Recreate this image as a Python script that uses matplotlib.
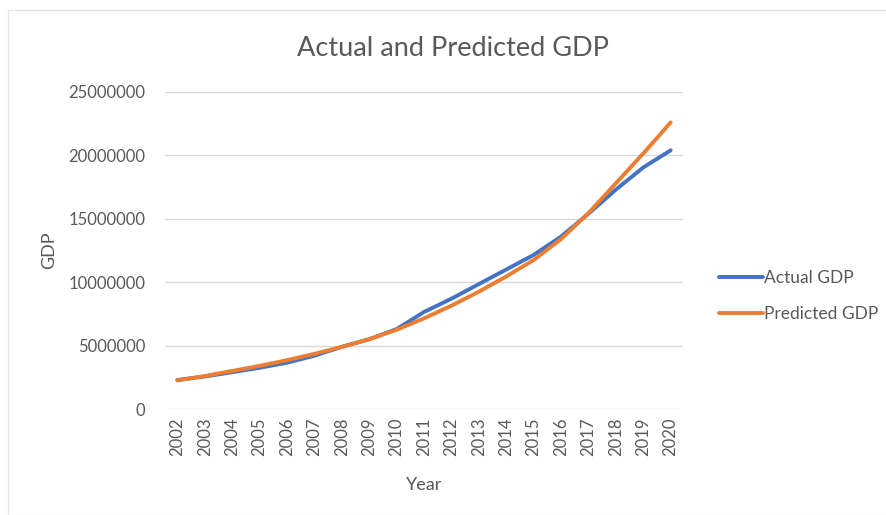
import matplotlib.pyplot as plt
from matplotlib.ticker import FuncFormatter

# datos del grafico
years = list(range(2002, 2021))
actual_gdp = [2290000, 2560000, 2900000, 3250000, 3650000, 4200000, 4900000, 5500000, 6300000,
              7650000, 8700000, 9850000, 11000000, 12150000, 13600000, 15400000, 17300000, 19050000, 20400000]
predicted_gdp = [2250000, 2600000, 3000000, 3400000, 3850000, 4350000, 4900000, 5500000, 6250000,
                 7150000, 8150000, 9250000, 10450000, 11750000, 13400000, 15450000, 17800000, 20150000, 22600000]
yticks = [0, 5000000, 10000000, 15000000, 20000000, 25000000]

plt.rcParams['font.family'] = ['Lato', 'DejaVu Sans']
gris = '#595959'

fig = plt.figure(figsize=(8.86, 5.15), dpi=100)
ax = fig.add_axes([165/886, 1-409/515, (683-165)/886, (409-92)/515])

ax.plot(years, actual_gdp, color='#4472C4', lw=2.8, label='Actual GDP', solid_capstyle='round')
ax.plot(years, predicted_gdp, color='#ED7D31', lw=2.8, label='Predicted GDP', solid_capstyle='round')

ax.set_xlim(2001.55, 2020.45)
ax.set_ylim(0, 25000000)
ax.set_yticks(yticks)
ax.yaxis.set_major_formatter(FuncFormatter(lambda v, p: '%d' % v))
ax.set_xticks(years)
ax.set_xticklabels([str(y) for y in years], rotation=90)
ax.tick_params(axis='both', length=0, labelsize=12, colors=gris)
ax.tick_params(axis='y', pad=14)
ax.tick_params(axis='x', pad=6)
ax.grid(axis='y', color='#d9d9d9', lw=1)
ax.set_axisbelow(True)
for s in ax.spines.values():
    s.set_visible(False)

ax.set_xlabel('Year', fontsize=13, color=gris, labelpad=15)
ax.set_ylabel('GDP', fontsize=13, color=gris, labelpad=8)
fig.text(453/886, 1-49/515, 'Actual and Predicted GDP', fontsize=19.5, color=gris, ha='center', va='center')

ax.legend(loc='center left', bbox_to_anchor=(1.04, 0.355), frameon=False, fontsize=12.5,
          labelcolor=gris, handlelength=2.5, handletextpad=0.05, labelspacing=1.15)

# borde del area del grafico
fig.patches.append(plt.Rectangle((8/886, 0.0), 1.0, 1-10/515, transform=fig.transFigure,
                                 fill=False, ec='#e6e6e6', lw=1))

fig.savefig('out.png', dpi=100, facecolor='white')
